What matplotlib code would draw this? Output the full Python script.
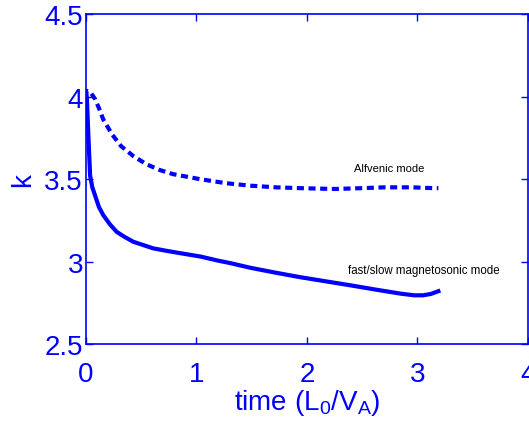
import matplotlib
matplotlib.use("Agg")
import matplotlib.pyplot as plt

plt.rcParams['font.family'] = ['Liberation Sans', 'DejaVu Sans']
plt.rcParams['mathtext.fontset'] = 'custom'
plt.rcParams['mathtext.rm'] = 'Liberation Sans'

# modo magnetosonico (linea solida)
t_mag = [0.0, 0.01, 0.025, 0.04, 0.06, 0.085, 0.12, 0.16, 0.22, 0.28, 0.35, 0.43, 0.52, 0.61, 0.73, 0.86, 1.04, 1.2, 1.31, 1.49, 1.72, 1.94, 2.17, 2.40, 2.62, 2.85, 2.97, 3.05, 3.12, 3.19]
k_mag = [4.03, 4.0, 3.75, 3.52, 3.45, 3.40, 3.33, 3.28, 3.225, 3.18, 3.15, 3.12, 3.10, 3.08, 3.065, 3.05, 3.03, 3.005, 2.99, 2.962, 2.932, 2.905, 2.88, 2.855, 2.83, 2.805, 2.795, 2.795, 2.803, 2.82]

# modo alfvenico (linea punteada)
t_alf = [0.0, 0.01, 0.04, 0.085, 0.12, 0.16, 0.24, 0.32, 0.43, 0.55, 0.67, 0.79, 1.03, 1.27, 1.49, 1.72, 1.94, 2.25, 2.50, 2.70, 2.95, 3.15, 3.19]
k_alf = [4.0, 4.035, 4.03, 3.985, 3.93, 3.86, 3.77, 3.70, 3.64, 3.59, 3.555, 3.53, 3.50, 3.475, 3.46, 3.45, 3.445, 3.44, 3.445, 3.45, 3.45, 3.445, 3.445]

azul = '#0000ff'

fig = plt.figure(figsize=(5.29, 4.35), dpi=100)
ax = fig.add_axes([0.162, 0.207, 0.836, 0.758])

ax.plot(t_mag, k_mag, color=azul, lw=3)
ax.plot(t_alf, k_alf, color=azul, lw=3, linestyle=(0, (1.7, 1.1)))

ax.text(2.43, 3.55, 'Alfvenic mode', fontsize=8, color='black')
ax.text(2.37, 2.93, 'fast/slow magnetosonic mode', fontsize=8.3, color='black')

ax.set_xlim(0, 4)
ax.set_ylim(2.5, 4.5)
ax.set_xticks([0, 1, 2, 3, 4])
ax.set_yticks([2.5, 3, 3.5, 4, 4.5])
ax.set_xticklabels(['0', '1', '2', '3', '4'])
ax.set_yticklabels(['2.5', '3', '3.5', '4', '4.5'])
ax.tick_params(direction='in', length=5, width=1, colors=azul, labelsize=20,
               top=True, right=True, pad=2)
ax.tick_params(axis='x', pad=12)
for s in ax.spines.values():
    s.set_color(azul)
    s.set_linewidth(1.2)

ax.set_xlabel(r'time $\mathregular{(L_0/V_A)}$', fontsize=20, color=azul, labelpad=0)
ax.set_ylabel('k', fontsize=20, color=azul, labelpad=6)

fig.savefig('out.png', dpi=100)
